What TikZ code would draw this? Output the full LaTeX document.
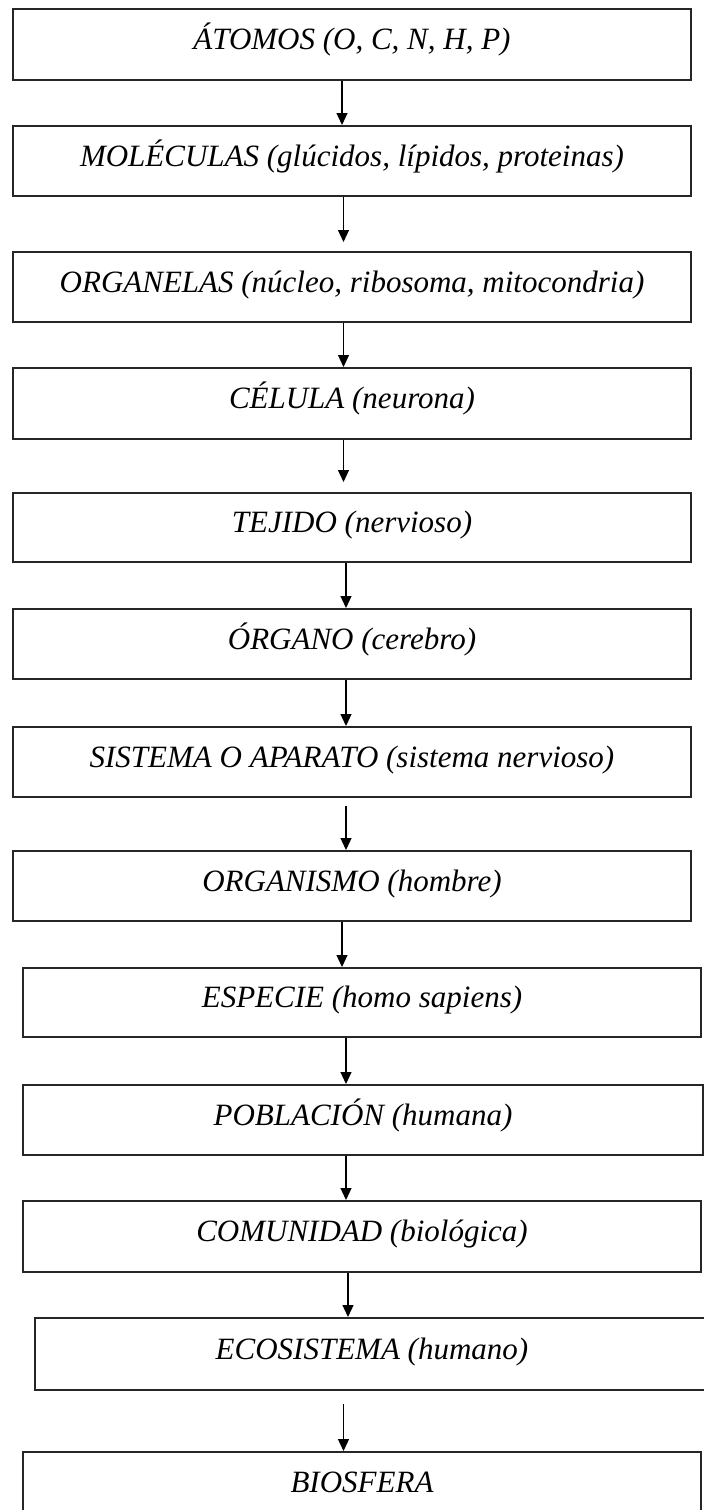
\documentclass[tikz,border=0pt]{standalone}
\usepackage{fontspec}
\setmainfont{Liberation Serif}
\usetikzlibrary{arrows.meta}

\begin{document}
\begin{tikzpicture}[x=1pt, y=-1pt,
  nivel/.style={draw=black!85, line width=2pt, inner sep=0pt, minimum height=70pt, text height=22pt, text depth=12pt, font=\fontsize{31}{36}\selectfont\itshape},
  flecha/.style={-{Triangle[length=12pt,width=11pt]}, line width=1.2pt}]
\useasboundingbox (0,0) rectangle (704,1510);
\node[nivel, minimum width=678pt, minimum height=71pt] (atomos) at (352,44.5) {ÁTOMOS (O, C, N, H, P)};
\node[nivel, minimum width=678pt] (moleculas) at (352,161) {MOLÉCULAS (glúcidos, lípidos, proteinas)};
\node[nivel, minimum width=678pt] (organelas) at (352,287) {ORGANELAS (núcleo, ribosoma, mitocondria)};
\node[nivel, minimum width=678pt, minimum height=71pt] (celula) at (352,403.5) {CÉLULA (neurona)};
\node[nivel, minimum width=678pt, minimum height=69pt] (tejido) at (352,527.5) {TEJIDO (nervioso)};
\node[nivel, minimum width=678pt] (organo) at (352,644) {ÓRGANO (cerebro)};
\node[nivel, minimum width=678pt] (sistema) at (352,762) {SISTEMA O APARATO (sistema nervioso)};
\node[nivel, minimum width=678pt] (organismo) at (352,886) {ORGANISMO (hombre)};
\node[nivel, minimum width=678pt, minimum height=69pt] (especie) at (362,1002.5) {ESPECIE (homo sapiens)};
\node[nivel, minimum width=680pt] (poblacion) at (363,1120) {POBLACIÓN (humana)};
\node[nivel, minimum width=678pt, minimum height=71pt] (comunidad) at (362,1236.5) {COMUNIDAD (biológica)};
\node[nivel, minimum width=674pt, minimum height=72pt] (ecosistema) at (372,1354) {ECOSISTEMA (humano)};
\node[nivel, minimum width=678pt] (biosfera) at (362,1487) {BIOSFERA};
\draw[flecha] (atomos.south -| 342,0) -- (moleculas.north -| 342,0);
\draw[flecha, shorten >=9pt] (moleculas.south -| 343.5,0) -- (organelas.north -| 343.5,0);
\draw[flecha] (organelas.south -| 343.5,0) -- (celula.north -| 343.5,0);
\draw[flecha, shorten >=10pt] (celula.south -| 343.5,0) -- (tejido.north -| 343.5,0);
\draw[flecha] (tejido.south -| 346,0) -- (organo.north -| 346,0);
\draw[flecha] (organo.south -| 346,0) -- (sistema.north -| 346,0);
\draw[flecha, shorten <=8pt] (sistema.south -| 346,0) -- (organismo.north -| 346,0);
\draw[flecha] (organismo.south -| 342,0) -- (especie.north -| 342,0);
\draw[flecha] (especie.south -| 346,0) -- (poblacion.north -| 346,0);
\draw[flecha] (poblacion.south -| 346,0) -- (comunidad.north -| 346,0);
\draw[flecha] (comunidad.south -| 348,0) -- (ecosistema.north -| 348,0);
\draw[flecha, shorten <=13pt] (ecosistema.south -| 343.5,0) -- (biosfera.north -| 343.5,0);
\end{tikzpicture}
\end{document}
